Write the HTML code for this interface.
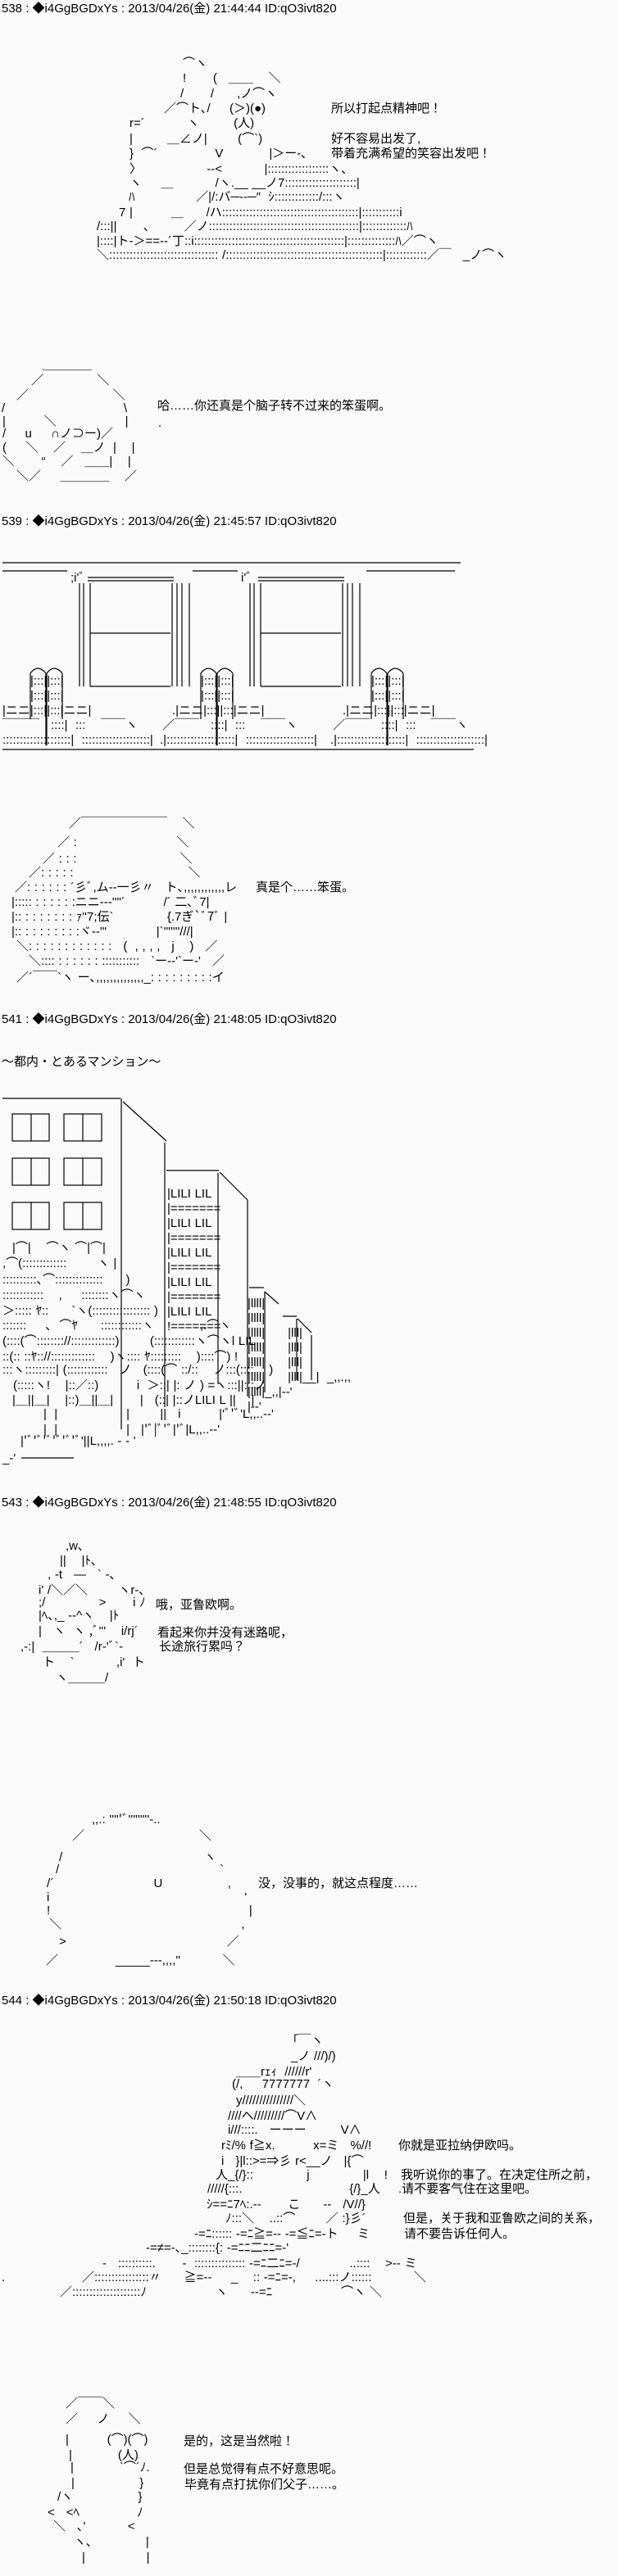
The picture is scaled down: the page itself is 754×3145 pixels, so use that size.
<!DOCTYPE html>
<html><head><meta charset="utf-8">
<style>
html,body{margin:0;padding:0;}
body{width:754px;height:3145px;position:relative;background:#fafafa;overflow:hidden;color:#000;
font-family:"Liberation Sans","Noto Sans CJK JP",sans-serif;}
.l{position:absolute;white-space:pre;font-size:15px;line-height:18px;word-spacing:0.5px;}
.h{position:absolute;white-space:pre;font-size:15px;line-height:18px;left:2px;}
.t{position:absolute;white-space:pre;font-size:15px;line-height:18px;}
svg{position:absolute;left:0;top:0;}
</style></head><body>
<svg width="754" height="3145" viewBox="0 0 754 3145" fill="none" stroke="#000" stroke-width="1.2">
<line x1="3" y1="687" x2="562" y2="687"/>
<line x1="3" y1="697" x2="82" y2="697"/><line x1="235" y1="697" x2="290" y2="697"/><line x1="447" y1="697" x2="555" y2="697"/>
<line x1="3" y1="915" x2="578" y2="915"/>
<g id="fr">
<line x1="107" y1="705" x2="212" y2="705"/><line x1="107" y1="709" x2="212" y2="709"/>
<line x1="97" y1="712" x2="97" y2="838"/><line x1="102" y1="712" x2="102" y2="838"/><line x1="110" y1="712" x2="110" y2="838"/>
<line x1="210" y1="712" x2="210" y2="838"/><line x1="216" y1="712" x2="216" y2="838"/><line x1="222" y1="712" x2="222" y2="838"/><line x1="231" y1="712" x2="231" y2="838"/>
<line x1="110" y1="773" x2="208" y2="773"/><line x1="110" y1="838" x2="208" y2="838"/>
</g>
<use href="#fr" x="208"/>
<g id="ch">
<path d="M37,822 Q46,810 56,822 M57,822 Q66,810 76,822"/>
<line x1="37" y1="822" x2="37" y2="878"/><line x1="56" y1="822" x2="56" y2="910"/><line x1="57" y1="822" x2="57" y2="910"/><line x1="76" y1="822" x2="76" y2="878"/>
</g>
<use href="#ch" x="208"/><use href="#ch" x="416"/>
<line x1="3" y1="1341" x2="147" y2="1341"/>
<line x1="148" y1="1341" x2="148" y2="1745"/>
<line x1="150" y1="1345" x2="203" y2="1393"/>
<line x1="201" y1="1395" x2="201" y2="1718"/>
<line x1="203" y1="1429" x2="267" y2="1429"/>
<line x1="268" y1="1431" x2="302" y2="1465"/>
<line x1="266" y1="1432" x2="266" y2="1690"/>
<line x1="302" y1="1465" x2="302" y2="1705"/>
<line x1="304" y1="1572" x2="322" y2="1572"/>
<line x1="323" y1="1577" x2="340" y2="1592"/>
<line x1="323" y1="1577" x2="323" y2="1700"/>
<line x1="345" y1="1607" x2="362" y2="1607"/>
<line x1="363" y1="1610" x2="380" y2="1627"/>
<line x1="380" y1="1630" x2="380" y2="1685"/>
<line x1="362" y1="1610" x2="362" y2="1685"/>
<g id="w">
<rect x="15" y="1360" width="45" height="33"/><line x1="38" y1="1360" x2="38" y2="1393"/>
<rect x="78" y="1360" width="46" height="33"/><line x1="101" y1="1360" x2="101" y2="1393"/>
</g>
<use href="#w" y="54"/><use href="#w" y="108"/>
<line x1="26" y1="1780" x2="90" y2="1780"/>
</svg>

<div class="h" style="top:2px">538 : ◆i4GgBGDxYs : 2013/04/26(金) 21:44:44 ID:qO3ivt820</div>
<div class="l" style="top:69px;left:223px">⌒ヽ</div>
<div class="l" style="top:87px;left:223px">!       (   ＿＿    ＼</div>
<div class="l" style="top:106px;left:220px">/       /      ,ノ⌒ヽ</div>
<div class="l" style="top:124px;left:200px">／⌒ト､/     (＞)(●)</div>
<div class="l" style="top:142px;left:158px">r=´           ヽ         (人)</div>
<div class="l" style="top:161px;left:158px">|         ＿∠ノ|        (⌒`)</div>
<div class="l" style="top:179px;left:158px">}  ⌒´               V            |＞ー-､</div>
<div class="l" style="top:198px;left:158px">〉                 -‐&lt;           |::::::::::::::::::ヽ､</div>
<div class="l" style="top:215px;left:158px">ヽ     ＿           /ヽ.__ __ノ7:::::::::::::::::::::|</div>
<div class="l" style="top:232px;left:157px">ﾊ                ／|/:バ─--─″  ｼ:::::::::::::/:::ヽ</div>
<div class="l" style="top:251px;left:145px">7 |          ＿      /ハ::::::::::::::::::::::::::::::::::::::::|:::::::::::i</div>
<div class="l" style="top:268px;left:118px">/:::||       ､         ／ノ::::::::::::::::::::::::::::::::::::::::::::|:::::::::::::ﾊ</div>
<div class="l" style="top:286px;left:118px">|::::|ト-＞==-‐´丁::i::::::::::::::::::::::::::::::::::::::::::::|::::::::::::::ﾊ／⌒ヽ</div>
<div class="l" style="top:303px;left:118px">＼:::::::::::::::::::::::::::::::: /::::::::::::::::::::::::::::::::::::::::::::::|::::::::::::／￣   _ノ⌒ヽ</div>
<div class="t" style="top:124px;left:404px">所以打起点精神吧！</div>
<div class="t" style="top:161px;left:404px">好不容易出发了,</div>
<div class="t" style="top:179px;left:404px">带着充满希望的笑容出发吧！</div>

<div class="l" style="top:437px;left:52px">＿＿＿＿</div>
<div class="l" style="top:456px;left:38px">／              ＼</div>
<div class="l" style="top:474px;left:20px">／                      ＼</div>
<div class="l" style="top:490px;left:2px">/                               \</div>
<div class="l" style="top:506px;left:3px">|          ＼                  |</div>
<div class="l" style="top:521px;left:3px">/     u     ∩ノ⊃ー)／</div>
<div class="l" style="top:538px;left:3px">(     ＼    ／    ＿ノ  |    |</div>
<div class="l" style="top:555px;left:3px">＼       “    ／   ＿＿|    |</div>
<div class="l" style="top:573px;left:20px">＼／     ＿＿＿＿    ／</div>
<div class="t" style="top:487px;left:192px">哈……你还真是个脑子转不过来的笨蛋啊。</div>
<div class="l" style="top:508px;left:193px">.</div>

<div class="h" style="top:628px">539 : ◆i4GgBGDxYs : 2013/04/26(金) 21:45:57 ID:qO3ivt820</div>
<div class="l" style="top:697px;left:86px">;i'ﾞ</div>
<div class="l" style="top:697px;left:294px">i'ﾞ</div>
<div class="l" style="top:823px;left:37px">|:::||:::|</div>
<div class="l" style="top:841px;left:37px">|:::||:::|</div>
<div class="l" style="top:859px;left:3px">|ニニ|:::||:::|ニニ|</div>
<div class="l" style="top:877px;left:3px">￣￣￣   ::::|  :::    ￣￣ヽ</div>
<div class="l" style="top:895px;left:3px">::::::::::::::::::::|  ::::::::::::::::::::|</div>
<div class="l" style="top:823px;left:245px">|:::||:::|</div>
<div class="l" style="top:841px;left:245px">|:::||:::|</div>
<div class="l" style="top:859px;left:210px">.|ニニ|:::||:::|ニニ|</div>
<div class="l" style="top:877px;left:198px">／￣￣   ::::|  :::    ￣￣ヽ</div>
<div class="l" style="top:895px;left:195px">.|::::::::::::::::::::|  ::::::::::::::::::::|</div>
<div class="l" style="top:823px;left:453px">|:::||:::|</div>
<div class="l" style="top:841px;left:453px">|:::||:::|</div>
<div class="l" style="top:859px;left:418px">.|ニニ|:::||:::|ニニ|</div>
<div class="l" style="top:877px;left:406px">／￣￣   ::::|  :::    ￣￣ヽ</div>
<div class="l" style="top:895px;left:403px">.|::::::::::::::::::::|  ::::::::::::::::::::|</div>

<div class="l" style="top:997px;left:84px">／￣￣￣￣￣￣￣    ＼</div>
<div class="l" style="top:1020px;left:70px">／ :                          ＼</div>
<div class="l" style="top:1040px;left:52px">／ : : :                           ＼</div>
<div class="l" style="top:1057px;left:35px">／: : : : :                              ＼</div>
<div class="l" style="top:1075px;left:18px">／: : : : : : ´彡ﾞ,ム-‐一彡〃   ト､,,,,,,,,,,,,レ</div>
<div class="l" style="top:1093px;left:14px">|::::: : : : : : :ニニ‐-‐''"´          /´ 二､ﾞ7|</div>
<div class="l" style="top:1111px;left:14px">|:: : : : : : : : ｧ''7;伝`              {.7ぎ`ﾞ7ﾞ |</div>
<div class="l" style="top:1129px;left:14px">|:: : : : : : : : :ヾ-‐'"             |`'"''''///|</div>
<div class="l" style="top:1147px;left:20px">＼: : : : : : : : : : : :   (  , , , ,   j    )   ／</div>
<div class="l" style="top:1165px;left:35px">＼:::: : : : : : : :::::::::::   `ー-‐'`ー‐'   ／</div>
<div class="l" style="top:1185px;left:20px">／´￣￣`ヽ ー､,,,,,,,,,,,,,,_: : : : : : : : :イ</div>
<div class="t" style="top:1075px;left:312px">真是个……笨蛋。</div>

<div class="h" style="top:1236px">541 : ◆i4GgBGDxYs : 2013/04/26(金) 21:48:05 ID:qO3ivt820</div>
<div class="t" style="top:1288px;left:2px">～都内・とあるマンション～</div>
<div class="l" style="top:1449px;left:204px">|LILI LIL</div>
<div class="l" style="top:1467px;left:204px">|=======</div>
<div class="l" style="top:1485px;left:204px">|LILI LIL</div>
<div class="l" style="top:1503px;left:204px">|=======</div>
<div class="l" style="top:1521px;left:204px">|LILI LIL</div>
<div class="l" style="top:1539px;left:204px">|=======</div>
<div class="l" style="top:1557px;left:204px">|LILI LIL</div>
<div class="l" style="top:1575px;left:204px">|=======</div>
<div class="l" style="top:1593px;left:204px">|LILI LIL</div>
<div class="l" style="top:1611px;left:204px">!=======</div>
<div class="l" style="top:1583px;left:302px">|llll|</div>
<div class="l" style="top:1601px;left:302px">|llll|</div>
<div class="l" style="top:1619px;left:302px">|llll|      |lll|</div>
<div class="l" style="top:1637px;left:302px">|llll|      |lll|</div>
<div class="l" style="top:1655px;left:302px">|llll|      |lll|</div>
<div class="l" style="top:1673px;left:302px">|llll|      |lll|__|  _,,.,,</div>
<div class="l" style="top:1691px;left:302px">|llll|_,,|-‐'</div>
<div class="l" style="top:1709px;left:302px">|-‐'</div>
<div class="l" style="top:1515px;left:15px">|⌒|    ⌒ヽ ⌒|⌒|</div>
<div class="l" style="top:1534px;left:3px">,⌒(:::::::::::::        ヽ |</div>
<div class="l" style="top:1554px;left:3px">::::::::::､⌒::::::::::::::      )</div>
<div class="l" style="top:1573px;left:3px">::::::::::::    ,     ::::::::ヽ⌒ヽ</div>
<div class="l" style="top:1592px;left:3px">＞::::: ﾔ::      `ヽ(::::::::::::::::: )</div>
<div class="l" style="top:1610px;left:3px">:::::::     ､  ⌒ﾔ      ::::::::::::ヽ            ,.⌒ヽ</div>
<div class="l" style="top:1629px;left:3px">(::::(⌒:::::::://:::::::::::::)        (::::::::::::ヽ⌒ヽl LIL</div>
<div class="l" style="top:1648px;left:3px">::(:: ::ﾔ:://:::::::::::::    )ヽ:::: ﾔ:::::::::    )::::⌒) !</div>
<div class="l" style="top:1664px;left:3px">:::ヽ:::::::::| (::::::::::::   ノ   (::::(⌒ ::/::    ノ:::(::::    )</div>
<div class="l" style="top:1683px;left:16px">(:::::ヽ!    |::／::)          i  ＞::| |: ノ ) =ヽ:::||:::ノ</div>
<div class="l" style="top:1701px;left:15px">|＿||＿|    |::)＿||＿|       |   (::| |::ノLILI L ||    |</div>
<div class="l" style="top:1718px;left:53px">|  |                  |        ||   i          |'ﾞ'ﾞ'L,,..--'</div>
<div class="l" style="top:1737px;left:53px">|  |                  |   |'ﾞ|ﾞ'ﾞ|'ﾞ|L,,..--'</div>
<div class="l" style="top:1751px;left:25px">|'ﾞ'ﾞ'ﾞ'ﾞ'ﾞ'ﾞ'||L,,,,. - - '</div>
<div class="l" style="top:1772px;left:3px">_-'</div>

<div class="h" style="top:1826px">543 : ◆i4GgBGDxYs : 2013/04/26(金) 21:48:55 ID:qO3ivt820</div>
<div class="l" style="top:1879px;left:80px">,w､</div>
<div class="l" style="top:1897px;left:73px">||    |ﾄ､</div>
<div class="l" style="top:1914px;left:58px">, -t   —   ` -､</div>
<div class="l" style="top:1933px;left:47px">i' /＼／＼        ヽr‐､</div>
<div class="l" style="top:1948px;left:47px">;/              &gt;       i ﾉ</div>
<div class="l" style="top:1964px;left:47px">|ﾍ､,_ -‐^ヽ    |ﾄ</div>
<div class="l" style="top:1983px;left:47px">|   ヽ  ヽ ,ﾞ'''    i/rj´</div>
<div class="l" style="top:2002px;left:25px">,-:|  ＿＿＿´   /r‐'ﾞ`‐</div>
<div class="l" style="top:2021px;left:52px">ト    `           ,i'  ト</div>
<div class="l" style="top:2040px;left:68px">ヽ＿＿＿/</div>
<div class="t" style="top:1951px;left:190px">哦，亚鲁欧啊。</div>
<div class="t" style="top:1985px;left:192px">看起来你并没有迷路呢，</div>
<div class="t" style="top:2002px;left:194px">长途旅行累吗？</div>

<div class="l" style="top:2213px;left:112px">,,.: '''''ﾞ'''''''''-..</div>
<div class="l" style="top:2233px;left:88px">／                              ＼</div>
<div class="l" style="top:2259px;left:72px">/                                     ヽ</div>
<div class="l" style="top:2274px;left:68px">/                                          `</div>
<div class="l" style="top:2291px;left:57px">/´                          U                 ,</div>
<div class="l" style="top:2308px;left:57px">i                                                   '</div>
<div class="l" style="top:2324px;left:57px">!                                                    |</div>
<div class="l" style="top:2341px;left:60px">＼                                               ,</div>
<div class="l" style="top:2362px;left:72px">&gt;                                          ／</div>
<div class="l" style="top:2385px;left:56px">／               _____---,,,,''           ＼</div>
<div class="t" style="top:2291px;left:315px">没，没事的，就这点程度……</div>

<div class="h" style="top:2434px">544 : ◆i4GgBGDxYs : 2013/04/26(金) 21:50:18 ID:qO3ivt820</div>
<div class="l" style="top:2483px;left:357px">｢￣ヽ</div>
<div class="l" style="top:2502px;left:355px">_ノ ///)/)</div>
<div class="l" style="top:2521px;left:288px">＿＿rｪｨ  //////r'</div>
<div class="l" style="top:2536px;left:283px">(/,     7777777  ´ヽ</div>
<div class="l" style="top:2556px;left:288px">y///////////////＼</div>
<div class="l" style="top:2575px;left:278px">////ヘ/////////⌒V∧</div>
<div class="l" style="top:2592px;left:278px">i///::::.   ーーー         V∧</div>
<div class="l" style="top:2611px;left:270px">rﾐ/% f≧x.          x=ミ   %//!</div>
<div class="l" style="top:2630px;left:270px">i   }|l::&gt;=⇒彡 r&lt;__ノ   |{⌒</div>
<div class="l" style="top:2647px;left:263px">人_{/}::              j              |l    !</div>
<div class="l" style="top:2664px;left:253px">/////{:::.                            {/}_人</div>
<div class="l" style="top:2683px;left:252px">ｼ==ﾆ7ﾍ:.-‐       こ      --   /V//}</div>
<div class="l" style="top:2700px;left:275px">ﾉ:::＼    ..::⌒        ／ :}彡´</div>
<div class="l" style="top:2719px;left:237px">-=ﾆ:::::: -=ﾆ≧=-- -=≦ﾆ=-ト     ミ</div>
<div class="l" style="top:2736px;left:178px">-=≠=-､_::::::::{: -=ﾆﾆ二ﾆﾆ=-'</div>
<div class="l" style="top:2755px;left:125px">-   ::::::::::.       -  ::::::::::::::: -=ﾆ二ﾆ=-/             ..::::    &gt;-- ミ</div>
<div class="l" style="top:2772px;left:100px">／::::::::::::::::〃      ≧=--     _    :: -=ﾆ=-,     ....:::ノ::::::           ＼</div>
<div class="l" style="top:2772px;left:2px">.</div>
<div class="l" style="top:2790px;left:73px">／::::::::::::::::::::ﾉ                  ヽ      --=ﾆ                  ⌒ヽ ＼</div>
<div class="t" style="top:2611px;left:486px">你就是亚拉纳伊欧吗。</div>
<div class="t" style="top:2647px;left:489px">我听说你的事了。在决定住所之前，</div>
<div class="t" style="top:2664px;left:486px">.请不要客气住在这里吧。</div>
<div class="t" style="top:2700px;left:492px">但是，关于我和亚鲁欧之间的关系，</div>
<div class="t" style="top:2719px;left:493px">请不要告诉任何人。</div>

<div class="l" style="top:2926px;left:80px">／￣￣＼</div>
<div class="l" style="top:2945px;left:80px">／     ノ     ＼</div>
<div class="l" style="top:2970px;left:80px">|          (⌒)(⌒)</div>
<div class="l" style="top:2989px;left:84px">|            (人)</div>
<div class="l" style="top:3004px;left:86px">|            `⌒´ﾉ.</div>
<div class="l" style="top:3023px;left:87px">|                 }</div>
<div class="l" style="top:3040px;left:70px">/ヽ                 }</div>
<div class="l" style="top:3059px;left:58px">&lt;   &lt;ﾍ               ﾉ</div>
<div class="l" style="top:3076px;left:65px">＼   ､'           &lt;</div>
<div class="l" style="top:3095px;left:90px">ヽ､              |</div>
<div class="l" style="top:3114px;left:100px">|                |</div>
<div class="t" style="top:2972px;left:224px">是的，这是当然啦！</div>
<div class="t" style="top:3006px;left:224px">但是总觉得有点不好意思呢。</div>
<div class="t" style="top:3025px;left:225px">毕竟有点打扰你们父子……。</div>
</body></html>
